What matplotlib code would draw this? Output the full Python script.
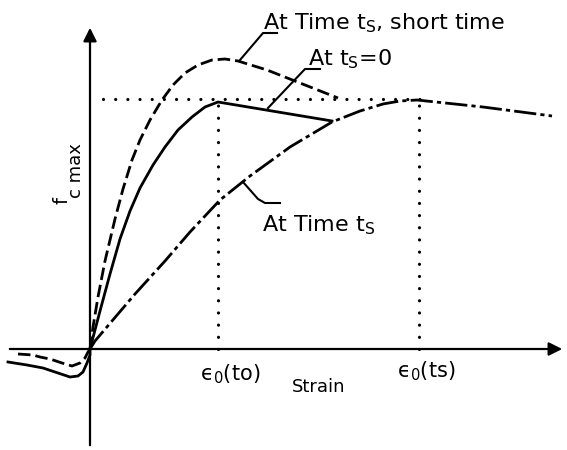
import matplotlib
matplotlib.use("Agg")
import matplotlib.pyplot as plt

plt.rcParams['font.family'] = ['DejaVu Sans']
plt.rcParams['mathtext.fontset'] = 'dejavusans'

# schematic stress-strain curves, strain right, stress up (arbitrary units)
# at ts = 0
strain_t0 = [0, 10, 20, 30, 40, 50, 63, 75, 88, 102, 115, 128, 242]
stress_t0 = [0, 38, 75, 110, 138, 161, 184, 202, 219, 232, 242, 247, 228]
neg_strain_t0 = [-82, -63, -47, -32, -20, -12, -7, -3, 0, 0]
neg_stress_t0 = [-13, -16, -19, -24, -28, -27, -23, -14, -6, 0]

# at time ts, short time loading
strain_short = [0, 3, 8, 15, 25, 33, 42, 50, 60, 72, 83, 95, 108, 122, 135,
                148, 177, 210, 248]
stress_short = [0, 22, 52, 88, 130, 160, 189, 209, 229, 249, 264, 276, 284, 289, 290,
                288, 279, 266, 251]
neg_strain_short = [-72, -57, -50, -40, -28, -18, -10, -5, -2, 0]
neg_stress_short = [-5, -6, -8, -10, -14, -17, -14, -9, -3, 0]

# at time ts
strain_ts = [0, 5, 22, 45, 75, 100, 130, 160, 200, 242, 270, 293, 310, 327, 393, 462]
stress_ts = [0, 8, 28, 55, 88, 117, 149, 173, 202, 227, 238, 245, 248, 249, 242, 233]

fc_max = 250
eps0_to = 128
eps0_ts = 329

fig = plt.figure(figsize=(5.67, 4.5), dpi=100)
ax = fig.add_axes([0, 0, 1, 1])
ax.set_xlim(-90, 477)
ax.set_ylim(-101, 349)
ax.axis('off')

# axes with arrows
ax.annotate('', xy=(0, 324), xytext=(0, -99),
            arrowprops=dict(arrowstyle='-|>', lw=1.6, color='k', mutation_scale=20))
ax.annotate('', xy=(475, 0), xytext=(-83, 0),
            arrowprops=dict(arrowstyle='-|>', lw=1.6, color='k', mutation_scale=20))

# dotted guides
dot = dict(color='k', lw=2.3, linestyle=(0, (0.01, 3.8)), dash_capstyle='round')
ax.plot([13, 331], [fc_max, fc_max], **dot)
ax.plot([eps0_to, eps0_to], [0, fc_max], **dot)
ax.plot([eps0_ts, eps0_ts], [0, fc_max], **dot)

# curves
style = dict(color='k', lw=2.0, solid_joinstyle='round', dash_joinstyle='round')
ax.plot(strain_t0, stress_t0, **style)
ax.plot(neg_strain_t0, neg_stress_t0, **style)
ax.plot(strain_short, stress_short, dashes=(4.5, 1.8), **style)
ax.plot(neg_strain_short, neg_stress_short, dashes=(4.5, 1.8), **style)
ax.plot(strain_ts, stress_ts, dashes=(8, 1.5, 1.5, 1.5), **style)

# leaders
ax.plot([187, 173, 150], [316, 316, 289], color='k', lw=1.5)
ax.plot([230, 215, 178], [280, 280, 241], color='k', lw=1.5)
ax.plot([153, 168, 175, 190], [167, 150, 146, 146], color='k', lw=1.5)

ax.text(173, 320, 'At Time t$_\\mathrm{S}$, short time', fontsize=16, va='baseline', ha='left')
ax.text(218, 284, 'At t$_\\mathrm{S}$=0', fontsize=16, va='baseline', ha='left')
ax.text(172, 118, 'At Time t$_\\mathrm{S}$', fontsize=16, va='baseline', ha='left')

# y label f c max, subscript nearly full size
ax.text(-28, 148, 'f', fontsize=14, rotation=90, ha='center', va='center')
ax.text(-14, 178, 'c max', fontsize=13, rotation=90, ha='center', va='center')
ax.text(202, -43, 'Strain', fontsize=13, va='baseline', ha='left')
ax.text(110, -31, 'ϵ$_0$(to)', fontsize=15, va='baseline', ha='left')
ax.text(307, -28, 'ϵ$_0$(ts)', fontsize=15, va='baseline', ha='left')

fig.savefig('out.png', dpi=100)
